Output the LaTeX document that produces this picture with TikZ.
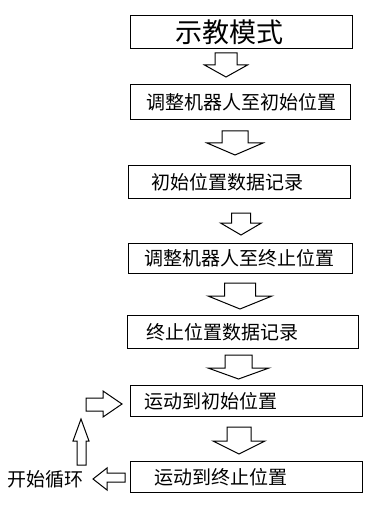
\documentclass[tikz,border=0pt]{standalone}
\usepackage{fontspec}
\setmainfont{Noto Sans CJK SC}
\begin{document}
\begin{tikzpicture}[x=1pt,y=-1pt,
  box/.style={draw=black, line width=1pt, anchor=north west, inner xsep=0pt, inner ysep=0pt, align=left, font=\fontsize{19}{20}\selectfont},
  blockarrow/.style={draw=black, line width=1pt, fill=white, line join=miter},
  lbl/.style={anchor=west, inner sep=0pt, font=\fontsize{19}{20}\selectfont}]
\useasboundingbox (0,0) rectangle (389,505);
\newcommand\downarr[6]{%
  \draw[blockarrow] (#1-#3,#2) -- (#1+#3,#2) -- (#1+#3,#4) -- (#1+#5,#4) -- (#1,#6) -- (#1-#5,#4) -- (#1-#3,#4) -- cycle;}
% boxes
\node[box, minimum width=222pt, text width=222pt, minimum height=33pt, font=\fontsize{27}{28}\selectfont] (b1) at (130,15) {\hspace*{45pt}示教模式};
\node[box, minimum width=220pt, text width=220pt, minimum height=35pt] (b2) at (130,84) {\hspace*{16pt}调整机器人至初始位置};
\node[box, minimum width=222pt, text width=222pt, minimum height=33pt] (b3) at (128,165) {\hspace*{23pt}初始位置数据记录};
\node[box, minimum width=224pt, text width=224pt, minimum height=30pt] (b4) at (128,243) {\hspace*{16pt}调整机器人至终止位置};
\node[box, minimum width=231pt, text width=231pt, minimum height=33pt] (b5) at (127,315) {\hspace*{19pt}终止位置数据记录};
\node[box, minimum width=232pt, text width=232pt, minimum height=31pt] (b6) at (130,385) {\hspace*{14pt}运动到初始位置};
\node[box, minimum width=232pt, text width=232pt, minimum height=31pt] (b7) at (130,461) {\hspace*{24pt}运动到终止位置};
\node[lbl] (loop) at (7,479) {开始循环};
% down arrows
\downarr{226}{53}{11}{65}{21.5}{77}
\downarr{235}{131}{13}{143}{28}{155}
\downarr{241}{213}{9.5}{223}{20.5}{235}
\downarr{240}{283}{15.5}{296}{32}{309}
\downarr{238.5}{355}{13.5}{368}{30.5}{379}
\downarr{239}{427}{12}{441}{26}{454}
% right arrow into b6
\draw[blockarrow] (86,398) -- (103,398) -- (103,391) -- (122,404) -- (103,417) -- (103,411) -- (86,411) -- cycle;
% up arrow
\draw[blockarrow] (77,465) -- (77,441) -- (73,441) -- (81,419) -- (89,441) -- (86,441) -- (86,465) -- cycle;
% left arrow
\draw[blockarrow] (125,473) -- (107,473) -- (107,468) -- (93,479) -- (107,490) -- (107,482) -- (125,482) -- cycle;
\end{tikzpicture}
\end{document}
